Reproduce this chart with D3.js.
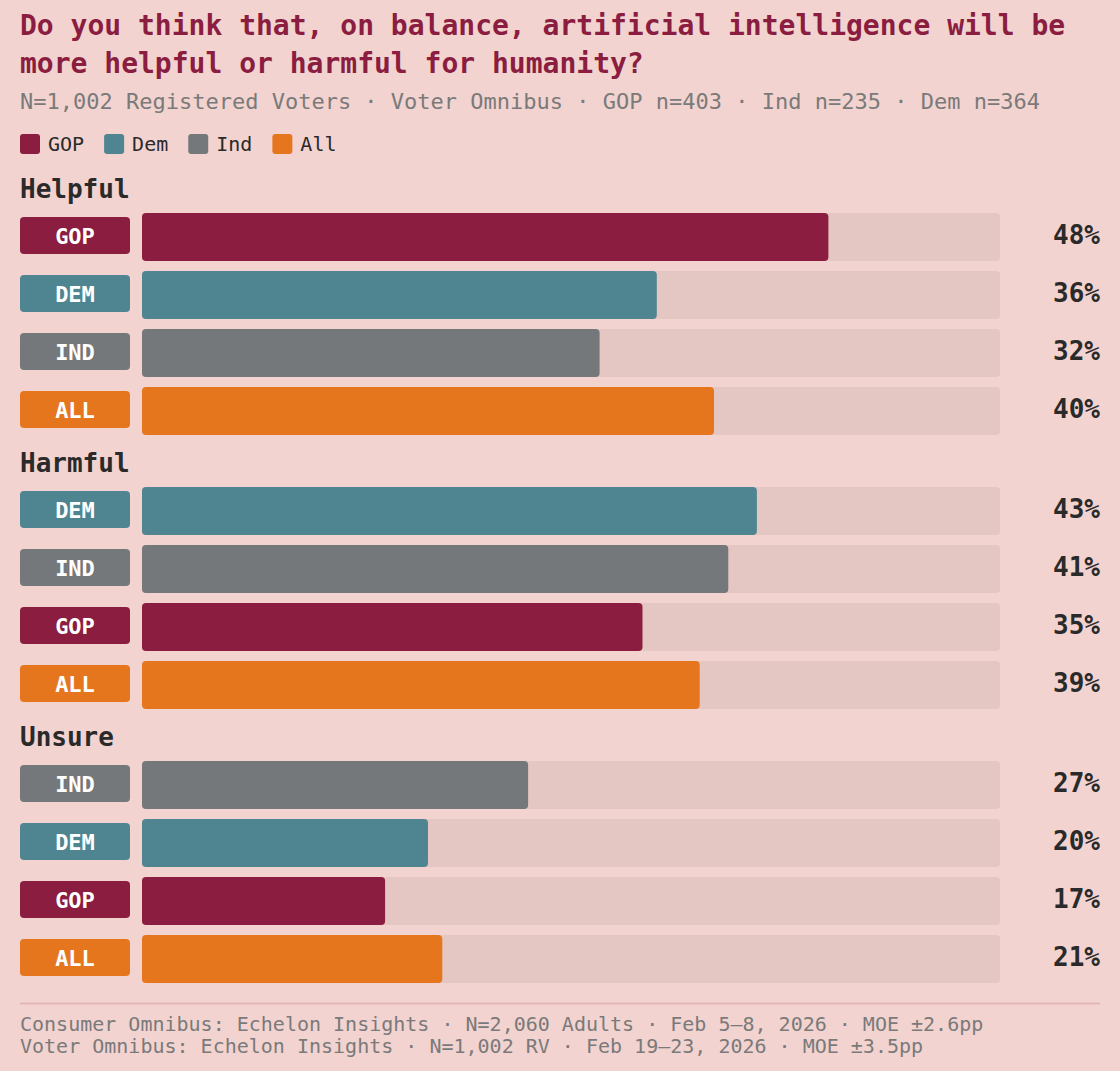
<!DOCTYPE html>
<html lang="en">
<head>
  <meta charset="UTF-8">
  <title>AI helpful or harmful</title>
  <script src="https://d3js.org/d3.v7.min.js"></script>
  <style>
    html, body {
      margin: 0;
      padding: 0;
      background: #f2d3d0;
    }
    svg { display: block; font-family: "DejaVu Sans Mono", monospace; }
  </style>
</head>
<body>
  <div id="container"></div>
  <script>
    // data
    const sections = ['Helpful', 'Harmful', 'Unsure']
    const helpfulGroups = ['GOP', 'DEM', 'IND', 'ALL']
    const helpfulValues = [48, 36, 32, 40]
    const harmfulGroups = ['DEM', 'IND', 'GOP', 'ALL']
    const harmfulValues = [43, 41, 35, 39]
    const unsureGroups = ['IND', 'DEM', 'GOP', 'ALL']
    const unsureValues = [27, 20, 17, 21]
    const legendLabels = ['GOP', 'Dem', 'Ind', 'All']

    const colors = {GOP: '#8a1d40', DEM: '#4f8590', IND: '#75787b', ALL: '#e6761e'}

    const rows = [
      {name: sections[0], groups: helpfulGroups, values: helpfulValues},
      {name: sections[1], groups: harmfulGroups, values: harmfulValues},
      {name: sections[2], groups: unsureGroups, values: unsureValues}
    ]

    const width = 1120, height = 1071
    const svg = d3.select('#container').append('svg')
      .attr('width', width).attr('height', height)

    // title + subtitle
    const title = svg.append('text')
      .attr('fill', '#8a1d40').attr('font-size', 28).attr('font-weight', 'bold')
    title.append('tspan').attr('x', 20).attr('y', 35)
      .text('Do you think that, on balance, artificial intelligence will be')
    title.append('tspan').attr('x', 20).attr('y', 73)
      .text('more helpful or harmful for humanity?')

    svg.append('text').attr('x', 20).attr('y', 109)
      .attr('fill', '#7a7a7a').attr('font-size', 22)
      .text('N=1,002 Registered Voters · Voter Omnibus · GOP n=403 · Ind n=235 · Dem n=364')

    // legend
    let lx = 20
    legendLabels.forEach(l => {
      const g = svg.append('g').attr('transform', `translate(${lx},134)`)
      g.append('rect').attr('width', 20).attr('height', 20).attr('rx', 3)
        .attr('fill', colors[l.toUpperCase()])
      g.append('text').attr('x', 28).attr('y', 17).attr('font-size', 20)
        .attr('fill', '#2a2a2a').text(l)
      lx += 28 + l.length * 12.04 + 20
    })

    // scales
    const x = d3.scaleLinear().domain([0, 60]).range([142, 1000])
    const sectionStep = 274
    const rowStep = 58, barH = 48

    rows.forEach((sec, si) => {
      const top = 198 + si * sectionStep
      svg.append('text').attr('x', 20).attr('y', top)
        .attr('font-size', 26).attr('font-weight', 'bold').attr('fill', '#2a2a2a')
        .text(sec.name)

      const n = sec.groups.length
      const y = d3.scaleBand().domain(sec.groups)
        .range([top + 15, top + 15 + rowStep * n - (rowStep - barH)])
        .paddingInner((rowStep - barH) / rowStep).paddingOuter(0)

      const data = sec.groups.map((g, i) => ({group: g, value: sec.values[i]}))
      const row = svg.append('g').selectAll('g').data(data).join('g')
      const mid = d => y(d.group) + y.bandwidth() / 2

      // pill
      row.append('rect')
        .attr('x', 20).attr('width', 110)
        .attr('y', d => mid(d) - 20).attr('height', 37)
        .attr('rx', 4).attr('fill', d => colors[d.group])
      row.append('text')
        .attr('x', 75).attr('y', d => mid(d) + 6.5)
        .attr('text-anchor', 'middle').attr('font-size', 22).attr('font-weight', 'bold')
        .attr('fill', '#ffffff').text(d => d.group)

      // track
      row.append('rect')
        .attr('x', x(0)).attr('width', x(60) - x(0))
        .attr('y', d => y(d.group)).attr('height', y.bandwidth())
        .attr('rx', 4).attr('fill', '#e4c6c2')
      // bar
      row.append('rect')
        .attr('x', x(0)).attr('width', d => x(d.value) - x(0))
        .attr('y', d => y(d.group)).attr('height', y.bandwidth())
        .attr('rx', 4).attr('fill', d => colors[d.group])
      // value
      row.append('text')
        .attr('x', 1100).attr('y', d => mid(d) + 6.5)
        .attr('text-anchor', 'end').attr('font-size', 26).attr('font-weight', 'bold')
        .attr('fill', '#2a2a2a').text(d => d.value + '%')
    })

    // footer
    svg.append('line').attr('x1', 20).attr('x2', 1100).attr('y1', 1003.5).attr('y2', 1003.5)
      .attr('stroke', '#e3b6b6').attr('stroke-width', 2)
    const foot = svg.append('text').attr('fill', '#7a7a7a').attr('font-size', 20)
    foot.append('tspan').attr('x', 20).attr('y', 1031)
      .text('Consumer Omnibus: Echelon Insights · N=2,060 Adults · Feb 5–8, 2026 · MOE ±2.6pp')
    foot.append('tspan').attr('x', 20).attr('y', 1053)
      .text('Voter Omnibus: Echelon Insights · N=1,002 RV · Feb 19–23, 2026 · MOE ±3.5pp')
  </script>
</body>
</html>
